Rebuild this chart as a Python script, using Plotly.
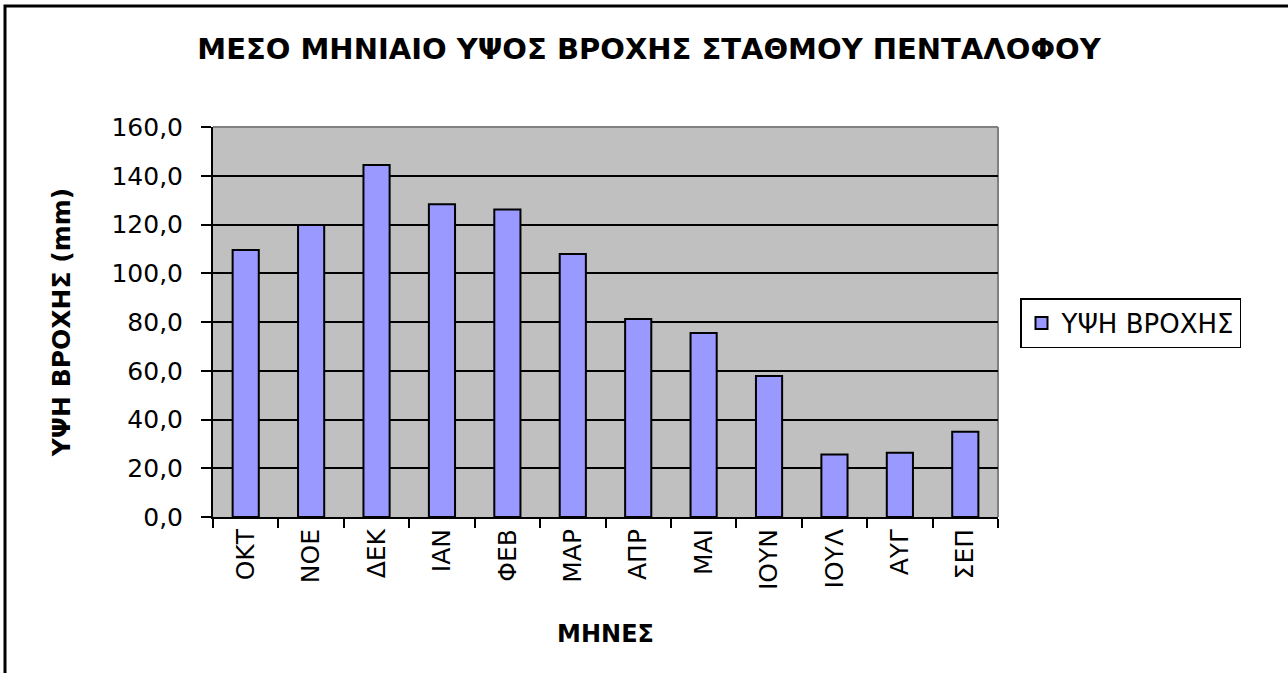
import plotly.graph_objects as go

months = ["ΟΚΤ", "ΝΟΕ", "ΔΕΚ", "ΙΑΝ", "ΦΕΒ", "ΜΑΡ", "ΑΠΡ", "ΜΑΙ", "ΙΟΥΝ", "ΙΟΥΛ", "ΑΥΓ", "ΣΕΠ"]
rain_mm = [109.5, 119.8, 144.4, 128.3, 126.2, 107.9, 81.2, 75.5, 57.8, 25.6, 26.4, 35.0]
y_tick_vals = [0, 20, 40, 60, 80, 100, 120, 140, 160]
y_tick_text = ["0,0", "20,0", "40,0", "60,0", "80,0", "100,0", "120,0", "140,0", "160,0"]

FONT = "DejaVu Sans, Liberation Sans, Arial, sans-serif"

# plot area in pixels
L, R, T, B = 213, 998, 127, 517
W, H = 1288, 673
pw, ph = R - L, B - T

def px_x(px):
    return (px - L) / pw

def px_y(py):
    return (B - py) / ph

fig = go.Figure()
fig.add_trace(go.Bar(
    x=months, y=rain_mm, name="ΥΨΗ ΒΡΟΧΗΣ",
    width=0.4,
    marker=dict(color="#9999FF", line=dict(color="black", width=2)),
))

fig.update_layout(
    width=W, height=H,
    margin=dict(l=L, r=W - R, t=T, b=H - B, autoexpand=False),
    paper_bgcolor="white",
    plot_bgcolor="#C0C0C0",
    font=dict(family=FONT, color="black", size=22),
    title=dict(
        text="<b>ΜΕΣΟ ΜΗΝΙΑΙΟ ΥΨΟΣ ΒΡΟΧΗΣ ΣΤΑΘΜΟΥ ΠΕΝΤΑΛΟΦΟΥ</b>",
        font=dict(family=FONT, size=29, color="black"),
        x=649 / W, xanchor="center", xref="container",
        y=1 - 49 / H, yanchor="middle", yref="container",
    ),
    showlegend=True,
    legend=dict(
        x=px_x(1020), y=px_y(298), xanchor="left", yanchor="top",
        bordercolor="black", borderwidth=1.5, bgcolor="white",
        font=dict(family=FONT, size=26, color="black"),
        tracegroupgap=0,
    ),
)

fig.update_xaxes(
    type="category",
    showline=True, linecolor="black", linewidth=2,
    ticks="outside", tickson="boundaries", ticklen=9, tickcolor="black", tickwidth=2,
    tickangle=-90,
    tickfont=dict(family=FONT, size=25, color="black"),
    showgrid=False,
    title=dict(text="<b>ΜΗΝΕΣ</b>", font=dict(family=FONT, size=24, color="black"), standoff=36),
)
fig.update_yaxes(
    range=[0, 160],
    tickvals=y_tick_vals, ticktext=y_tick_text,
    showline=True, linecolor="black", linewidth=2,
    ticks="outside", ticklen=10, tickcolor="black", tickwidth=2,
    ticklabelstandoff=13,
    tickfont=dict(family=FONT, size=25, color="black"),
    showgrid=True, gridcolor="black", gridwidth=2,
    zeroline=False,
    title=dict(text="<b>ΥΨΗ ΒΡΟΧΗΣ (mm)</b>", font=dict(family=FONT, size=25, color="black"), standoff=34),
)

# gray top/right plot border
fig.add_shape(type="line", xref="paper", yref="paper", x0=0, x1=1, y0=1, y1=1,
              line=dict(color="#808080", width=2), layer="below")
fig.add_shape(type="line", xref="paper", yref="paper", x0=1, x1=1, y0=0, y1=1,
              line=dict(color="#808080", width=2), layer="below")

# outer chart border (left and top visible; right/bottom beyond the window)
fig.add_shape(type="rect", xref="paper", yref="paper",
              x0=px_x(5), x1=px_x(1320), y0=px_y(720), y1=px_y(6),
              line=dict(color="black", width=3), fillcolor="rgba(0,0,0,0)")

fig.write_html("out.html", config={"displayModeBar": False},
               post_script="document.body.style.margin='0';")
